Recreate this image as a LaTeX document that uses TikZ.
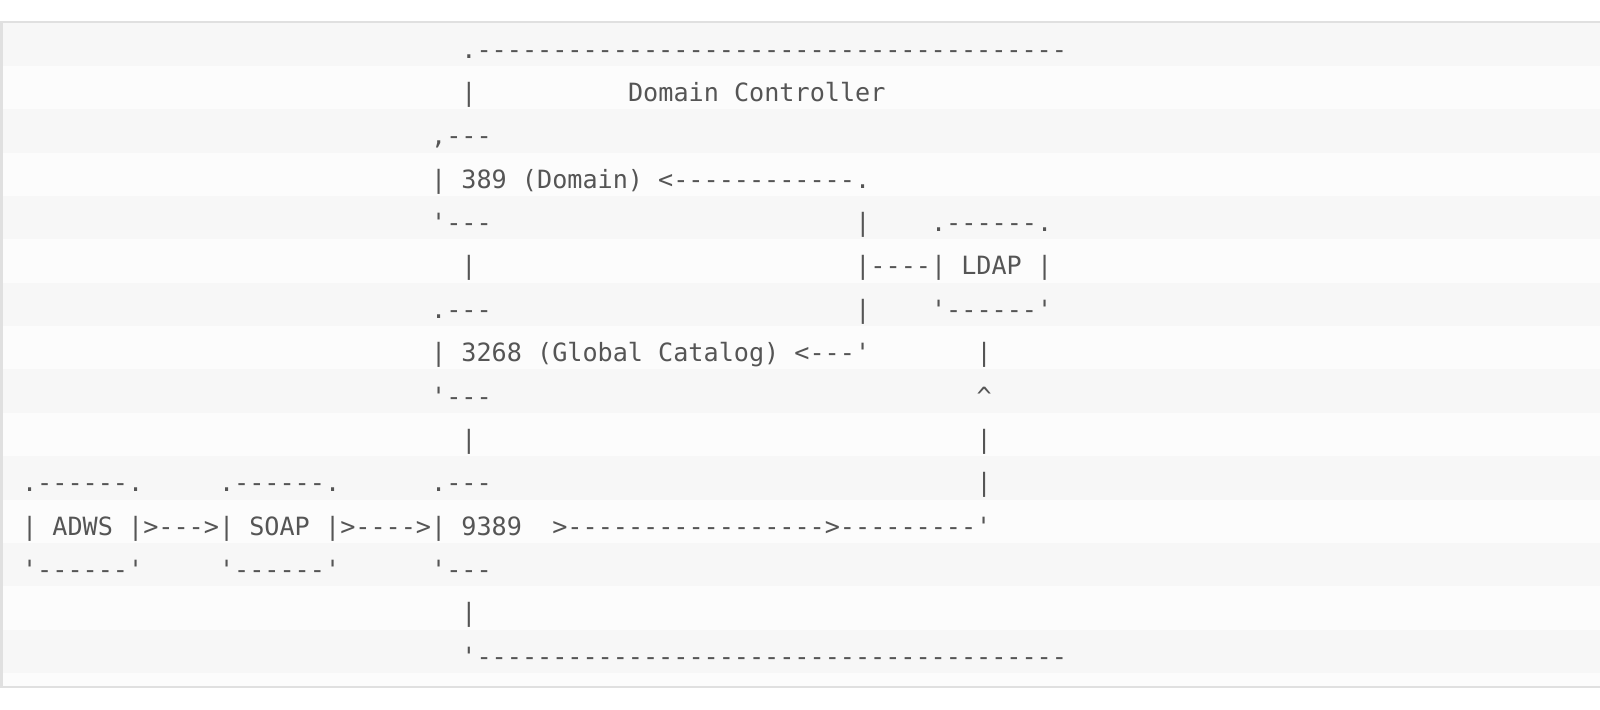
\documentclass[tikz,border=0pt]{standalone}
\usepackage{fontspec}
\setmonofont{DejaVu Sans Mono}
\definecolor{codeTexto}{HTML}{555555}
\definecolor{codeBanda}{HTML}{F7F7F7}
\definecolor{codeFondo}{HTML}{FCFCFC}
\definecolor{codeBorde}{HTML}{E0E0E0}

\begin{document}
\begin{tikzpicture}[x=0.1515cm, y=-0.4337cm,
      t/.style={anchor=base west, inner sep=0pt, text=codeTexto,
                font=\ttfamily\fontsize{7.155}{9}\selectfont},
      band/.style={fill=codeBanda, draw=none}]
    \useasboundingbox (-1.4125,-0.519) rectangle (104.2,15.83);
    % fondo del bloque y bandas de las filas
    \fill[codeFondo] (-1.31,-0.02) rectangle (104.3,15.33);
    \foreach \k in {1,3,...,15} {\path[band] (-1.31,\k-1) rectangle (104.3,\k);}
    \draw[codeBorde, line width=0.6pt] (104.3,-0.02) -- (-1.31,-0.02) -- (-1.31,15.33) -- (104.3,15.33);
    % controlador de dominio
    \node[t] (dcTop)   at (29,0.82)  {.---------------------------------------};
    \node[t] (dcBar1)  at (29,1.82)  {|};
    \node[t] (dcTitle) at (40,1.82)  {Domain Controller};
    \node[t] (dTop)    at (27,2.82)  {,---};
    \node[t] (dom)     at (27,3.82)  {| 389 (Domain) <------------.};
    \node[t] (dBot)    at (27,4.82)  {'---};
    \node[t] (lnk1)    at (55,4.82)  {|};
    \node[t] (ldapTop) at (60,4.82)  {.------.};
    \node[t] (dcBar2)  at (29,5.82)  {|};
    \node[t] (ldap)    at (55,5.82)  {|----| LDAP |};
    \node[t] (gTop)    at (27,6.82)  {.---};
    \node[t] (lnk2)    at (55,6.82)  {|};
    \node[t] (ldapBot) at (60,6.82)  {'------'};
    \node[t] (gc)      at (27,7.82)  {| 3268 (Global Catalog) <---'};
    \node[t] (up1)     at (63,7.82)  {|};
    \node[t] (gBot)    at (27,8.82)  {'---};
    \node[t] (upTip)   at (63,8.82)  {\textasciicircum};
    \node[t] (dcBar3)  at (29,9.82)  {|};
    \node[t] (up2)     at (63,9.82)  {|};
    % cadena ADWS -> SOAP -> 9389
    \node[t] (adwsTop) at (0,10.82)  {.------.};
    \node[t] (soapTop) at (13,10.82) {.------.};
    \node[t] (wTop)    at (27,10.82) {.---};
    \node[t] (up3)     at (63,10.82) {|};
    \node[t] (adws)    at (0,11.82)  {| ADWS |};
    \node[t] (a2s)     at (8,11.82)  {>--->};
    \node[t] (soap)    at (13,11.82) {| SOAP |};
    \node[t] (s2w)     at (21,11.82) {>---->};
    \node[t] (ws)      at (27,11.82) {| 9389};
    \node[t] (w2l)     at (35,11.82) {>----------------->---------'};
    \node[t] (adwsBot) at (0,12.82)  {'------'};
    \node[t] (soapBot) at (13,12.82) {'------'};
    \node[t] (wBot)    at (27,12.82) {'---};
    \node[t] (dcBar4)  at (29,13.82) {|};
    \node[t] (dcBot)   at (29,14.82) {'---------------------------------------};
  \end{tikzpicture}
\end{document}
